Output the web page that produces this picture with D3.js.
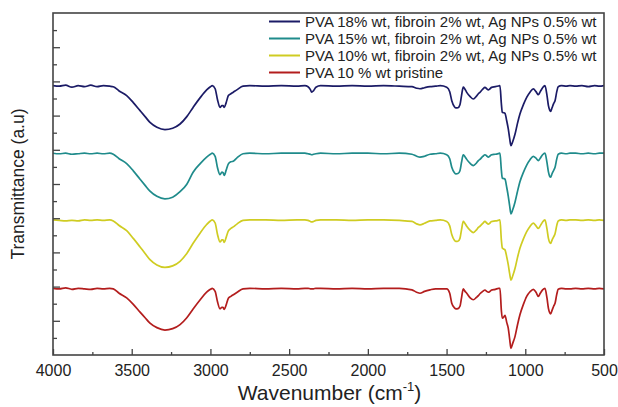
<!DOCTYPE html>
<html>
<head>
<meta charset="utf-8">
<script src="https://cdn.jsdelivr.net/npm/d3@7"></script>
<style>
  html, body { margin: 0; padding: 0; background: #fff; }
  svg { display: block; font-family: "Liberation Sans", Arial, sans-serif; }
</style>
</head>
<body>
<svg id="chart" width="618" height="407"></svg>
<script>
// ---- DATA ----
const wavenumbers = [
  4000, 3960, 3920, 3880, 3840, 3800, 3760, 3720, 3680, 3640, 3617,
  3580, 3532, 3490, 3447, 3415, 3384, 3340, 3289, 3240, 3193, 3150, 3110, 3065, 3024, 3000, 2988,
  2970, 2955, 2939, 2927, 2920, 2912, 2900, 2886, 2870, 2855, 2830, 2793,
  2750, 2650, 2550, 2450, 2400, 2380, 2365, 2357, 2345, 2330, 2300, 2200, 2100, 2000, 1900, 1800, 1720, 1690, 1669, 1640, 1605, 1570, 1540,
  1499, 1480, 1467, 1450, 1440, 1428, 1415, 1405, 1394, 1385,
  1372, 1350, 1330, 1310, 1298, 1288, 1270, 1256, 1245, 1235,
  1224, 1214, 1190, 1170, 1161, 1152, 1146, 1138, 1129, 1118,
  1108, 1099, 1091, 1080, 1065, 1050, 1034, 1012, 991, 970,
  949, 932, 917, 905, 890, 875, 862, 853, 845, 839,
  830, 820, 811, 800, 791, 770, 740, 716, 680, 640,
  600, 560, 530, 500
];

const pva18 = [
  15.75, 15.72, 15.78, 15.66, 15.75, 15.69, 15.78, 15.69, 15.75, 15.72, 15.69,
  15.44, 15.17, 14.76, 14.29, 13.94, 13.60, 13.32, 13.18, 13.26, 13.51, 13.94, 14.48, 15.05, 15.50, 15.69, 15.75,
  15.57, 14.93, 14.48, 14.58, 14.58, 14.48, 14.76, 15.17, 15.28, 15.37, 15.52, 15.72,
  15.75, 15.72, 15.75, 15.72, 15.75, 15.69, 15.52, 15.37, 15.46, 15.66, 15.75, 15.72, 15.75, 15.72, 15.75, 15.72, 15.69, 15.60, 15.57, 15.63, 15.69, 15.72, 15.75,
  15.66, 15.40, 14.87, 14.52, 14.45, 14.46, 14.64, 15.17, 15.66, 15.57,
  15.36, 15.11, 14.97, 15.14, 15.28, 15.36, 15.55, 15.65, 15.57, 15.50,
  15.57, 15.65, 15.69, 15.73, 15.75, 14.70, 14.19, 14.17, 14.13, 13.70,
  13.22, 12.65, 12.24, 12.47, 12.92, 13.53, 14.09, 14.64, 15.07, 15.37,
  15.56, 15.40, 15.22, 15.40, 15.63, 15.75, 15.17, 14.58, 14.32, 14.25,
  14.46, 14.70, 14.87, 15.40, 15.69, 15.75, 15.72, 15.75, 15.72, 15.75,
  15.69, 15.75, 15.72, 15.75
];

const pva15 = [
  11.80, 11.77, 11.80, 11.74, 11.77, 11.80, 11.77, 11.80, 11.77, 11.80, 11.74,
  11.48, 11.19, 10.77, 10.28, 9.92, 9.58, 9.28, 9.13, 9.23, 9.55, 9.99, 10.69, 11.19, 11.57, 11.74, 11.80,
  11.62, 10.95, 10.54, 10.69, 10.66, 10.50, 10.81, 11.18, 11.30, 11.33, 11.54, 11.77,
  11.80, 11.77, 11.80, 11.80, 11.80, 11.77, 11.74, 11.71, 11.74, 11.77, 11.80, 11.77, 11.80, 11.80, 11.77, 11.80, 11.74, 11.62, 11.57, 11.62, 11.74, 11.77, 11.80,
  11.71, 11.48, 10.98, 10.66, 10.59, 10.61, 10.78, 11.27, 11.71, 11.62,
  11.44, 11.20, 11.08, 11.23, 11.37, 11.44, 11.61, 11.71, 11.64, 11.57,
  11.64, 11.71, 11.74, 11.78, 11.80, 10.81, 10.34, 10.32, 10.28, 9.81,
  9.28, 8.70, 8.25, 8.49, 8.95, 9.55, 10.13, 10.68, 11.11, 11.42,
  11.62, 11.51, 11.37, 11.51, 11.71, 11.80, 11.25, 10.71, 10.45, 10.40,
  10.60, 10.79, 10.98, 11.47, 11.74, 11.80, 11.77, 11.80, 11.80, 11.77,
  11.80, 11.77, 11.80, 11.80
];

const pva10 = [
  7.90, 7.87, 7.84, 7.87, 7.84, 7.90, 7.87, 7.90, 7.87, 7.90, 7.84,
  7.57, 7.27, 6.82, 6.32, 5.94, 5.58, 5.27, 5.12, 5.21, 5.48, 5.94, 6.53, 7.14, 7.63, 7.84, 7.90,
  7.72, 7.05, 6.61, 6.73, 6.73, 6.58, 6.88, 7.26, 7.40, 7.49, 7.67, 7.87,
  7.90, 7.90, 7.87, 7.90, 7.90, 7.87, 7.81, 7.78, 7.81, 7.87, 7.90, 7.90, 7.87, 7.90, 7.90, 7.87, 7.81, 7.67, 7.61, 7.70, 7.84, 7.87, 7.90,
  7.81, 7.55, 7.05, 6.71, 6.64, 6.65, 6.82, 7.33, 7.81, 7.72,
  7.53, 7.29, 7.16, 7.32, 7.46, 7.53, 7.70, 7.81, 7.72, 7.65,
  7.72, 7.81, 7.84, 7.88, 7.90, 6.73, 6.26, 6.20, 6.15, 5.74,
  5.27, 4.74, 4.37, 4.62, 5.07, 5.68, 6.24, 6.79, 7.22, 7.52,
  7.71, 7.55, 7.40, 7.55, 7.78, 7.90, 7.36, 6.82, 6.58, 6.52,
  6.72, 6.91, 7.09, 7.58, 7.84, 7.90, 7.87, 7.90, 7.90, 7.87,
  7.90, 7.87, 7.90, 7.87
];

const pvaPristine = [
  3.90, 3.87, 3.93, 3.84, 3.90, 3.87, 3.84, 3.90, 3.87, 3.90, 3.87,
  3.61, 3.34, 2.96, 2.51, 2.18, 1.86, 1.60, 1.46, 1.54, 1.78, 2.18, 2.69, 3.23, 3.67, 3.84, 3.90,
  3.72, 3.11, 2.70, 2.79, 2.79, 2.67, 2.93, 3.32, 3.43, 3.52, 3.67, 3.87,
  3.90, 3.87, 3.90, 3.87, 3.90, 3.90, 3.87, 3.87, 3.87, 3.90, 3.90, 3.87, 3.90, 3.87, 3.90, 3.90, 3.81, 3.67, 3.61, 3.72, 3.81, 3.87, 3.87,
  3.87, 3.61, 3.02, 2.76, 2.70, 2.71, 2.85, 3.34, 3.87, 3.75,
  3.61, 3.34, 3.23, 3.37, 3.47, 3.58, 3.72, 3.80, 3.72, 3.67,
  3.72, 3.80, 3.84, 3.90, 3.90, 2.61, 2.15, 2.20, 2.32, 1.91,
  1.56, 0.92, 0.39, 0.68, 1.09, 1.74, 2.35, 2.96, 3.43, 3.70,
  3.84, 3.67, 3.43, 3.61, 3.81, 3.90, 3.32, 2.73, 2.47, 2.41,
  2.61, 2.85, 3.02, 3.55, 3.84, 3.90, 3.87, 3.87, 3.90, 3.87,
  3.90, 3.87, 3.90, 3.87
];

const seriesNames = [
  "PVA 18% wt, fibroin 2% wt, Ag NPs 0.5% wt",
  "PVA 15% wt, fibroin 2% wt, Ag NPs 0.5% wt",
  "PVA 10% wt, fibroin 2% wt, Ag NPs 0.5% wt",
  "PVA 10 % wt pristine"
];
const seriesColors = ["#1b1b66", "#1f8b8b", "#cfcc22", "#b31d1d"];
const xTickValues = [4000, 3500, 3000, 2500, 2000, 1500, 1000, 500];
const xMinorTicks = [3750, 3250, 2750, 2250, 1750, 1250, 750];
const yMajorTicks = [2, 4, 6, 8, 10, 12, 14, 16, 18];
const yMinorTicks = [1, 3, 5, 7, 9, 11, 13, 15, 17, 19];
const xTitle = "Wavenumber (cm";
const xTitleSup = "-1";
const yTitle = "Transmittance (a.u)";

// ---- CHART ----
const seriesValues = [pva18, pva15, pva10, pvaPristine];
const margin = { left: 53, right: 14, top: 13, bottom: 52 };
const W = 618, H = 407;
const svg = d3.select("#chart");

const x = d3.scaleLinear().domain([4000, 500]).range([margin.left, W - margin.right]);
const y = d3.scaleLinear().domain([0, 20]).range([H - margin.bottom, margin.top]);

const frameColor = "#444";

// series
const line = d3.line()
  .x(d => x(d[0]))
  .y(d => y(d[1]))
  .curve(d3.curveMonotoneX);

seriesValues.forEach((vals, i) => {
  const pts = wavenumbers.map((w, k) => [w, vals[k]]);
  svg.append("path")
    .datum(pts)
    .attr("fill", "none")
    .attr("stroke", seriesColors[i])
    .attr("stroke-width", 1.7)
    .attr("stroke-linejoin", "round")
    .attr("d", line);
});

// x axis major
const xAxis = svg.append("g")
  .attr("transform", `translate(0,${y(0)})`)
  .call(d3.axisBottom(x).tickValues(xTickValues).tickFormat(d3.format("d"))
    .tickSizeInner(-6).tickSizeOuter(0).tickPadding(10));
xAxis.select(".domain").remove();
xAxis.selectAll("line").attr("stroke", frameColor).attr("stroke-width", 1.3);
xAxis.selectAll("text").attr("font-size", 16).attr("fill", "#222")
  .attr("font-family", "Liberation Sans, Arial, sans-serif");

// x axis minor
const xMinor = svg.append("g")
  .attr("transform", `translate(0,${y(0)})`)
  .call(d3.axisBottom(x).tickValues(xMinorTicks).tickFormat("")
    .tickSizeInner(-3).tickSizeOuter(0));
xMinor.select(".domain").remove();
xMinor.selectAll("line").attr("stroke", frameColor).attr("stroke-width", 1.3);

// y axis ticks (no labels)
const yAxis = svg.append("g")
  .attr("transform", `translate(${x(4000)},0)`)
  .call(d3.axisLeft(y).tickValues(yMajorTicks).tickFormat("")
    .tickSizeInner(-7).tickSizeOuter(0));
yAxis.select(".domain").remove();
yAxis.selectAll("line").attr("stroke", frameColor).attr("stroke-width", 1.3);

const yMinor = svg.append("g")
  .attr("transform", `translate(${x(4000)},0)`)
  .call(d3.axisLeft(y).tickValues(yMinorTicks).tickFormat("")
    .tickSizeInner(-4).tickSizeOuter(0));
yMinor.select(".domain").remove();
yMinor.selectAll("line").attr("stroke", frameColor).attr("stroke-width", 1.3);

// frame
svg.append("rect")
  .attr("x", x(4000)).attr("y", y(20))
  .attr("width", x(500) - x(4000)).attr("height", y(0) - y(20))
  .attr("fill", "none").attr("stroke", frameColor).attr("stroke-width", 1.6);

// axis titles
const xt = svg.append("text")
  .attr("x", (x(4000) + x(500)) / 2 + 1)
  .attr("y", 400)
  .attr("text-anchor", "middle")
  .attr("font-size", 21)
  .attr("fill", "#222");
xt.append("tspan").text(xTitle);
xt.append("tspan").attr("font-size", 13).attr("dy", -9).text(xTitleSup);
xt.append("tspan").attr("dy", 9).text(")");

svg.append("text")
  .attr("transform", `translate(24,${(y(0) + y(20)) / 2}) rotate(-90)`)
  .attr("text-anchor", "middle")
  .attr("font-size", 17.5)
  .attr("fill", "#222")
  .text(yTitle);

// legend
const legendRowsY = [21.5, 38.5, 55.5, 72.5];
const legend = svg.append("g");
seriesNames.forEach((name, i) => {
  const gy = legendRowsY[i];
  legend.append("line")
    .attr("x1", 269).attr("x2", 300)
    .attr("y1", gy).attr("y2", gy)
    .attr("stroke", seriesColors[i]).attr("stroke-width", 2);
  legend.append("text")
    .attr("x", 305).attr("y", gy + 5)
    .attr("font-size", 15)
    .attr("fill", "#222")
    .text(name);
});
</script>
</body>
</html>
